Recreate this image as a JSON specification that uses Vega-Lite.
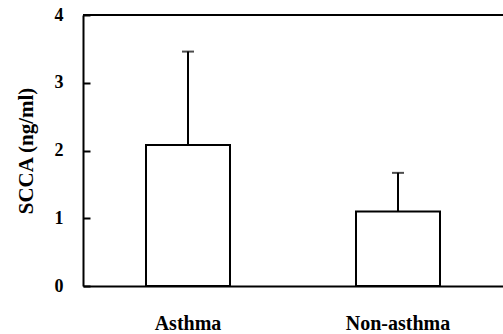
{
  "$schema": "https://vega.github.io/schema/vega-lite/v6.json",
  "width": 420,
  "height": 271,
  "autosize": "none",
  "padding": {"left": 83, "top": 15, "right": 0, "bottom": 48},
  "background": "white",
  "config": {
    "view": {"stroke": "transparent", "strokeWidth": 0},
    "font": "Liberation Serif",
    "axis": {"grid": false, "domainColor": "black", "domainWidth": 2, "labelColor": "black", "titleColor": "black", "labelFont": "Liberation Serif", "titleFont": "Liberation Serif"},
    "axisY": {"tickCount": 4, "format": "d", "tickSize": -7, "tickWidth": 2, "tickColor": "black", "labelPadding": 27, "labelFontSize": 18, "labelFontWeight": "bold", "titleFontSize": 21, "titleFontWeight": "bold", "titlePadding": 18}
  },
  "data": {"values": [
    {"group": "Asthma", "mean": 2.08, "upper": 3.46},
    {"group": "Non-asthma", "mean": 1.1, "upper": 1.67}
  ]},
  "encoding": {
    "x": {"field": "group", "type": "nominal", "sort": null,
      "scale": {"paddingInner": 0.6, "paddingOuter": 0.3},
      "axis": {"title": null, "labelAngle": 0, "ticks": false, "labelPadding": 27, "labelFontSize": 20, "labelFontWeight": "bold"}}
  },
  "layer": [
    {"mark": {"type": "bar", "fill": "white", "stroke": "black", "strokeWidth": 2},
     "encoding": {"y": {"field": "mean", "type": "quantitative", "title": "SCCA (ng/ml)", "scale": {"domain": [0, 4], "nice": false}}}},
    {"mark": {"type": "rule", "color": "black", "strokeWidth": 2},
     "encoding": {"y": {"field": "mean", "type": "quantitative", "title": "SCCA (ng/ml)"}, "y2": {"field": "upper"}}},
    {"mark": {"type": "tick", "color": "black", "thickness": 2, "size": 12},
     "encoding": {"y": {"field": "upper", "type": "quantitative", "title": "SCCA (ng/ml)"}}},
    {"mark": {"type": "rule", "color": "black", "strokeWidth": 2},
     "encoding": {"x": null, "y": {"datum": 4, "type": "quantitative", "title": "SCCA (ng/ml)"}}}
  ]
}
